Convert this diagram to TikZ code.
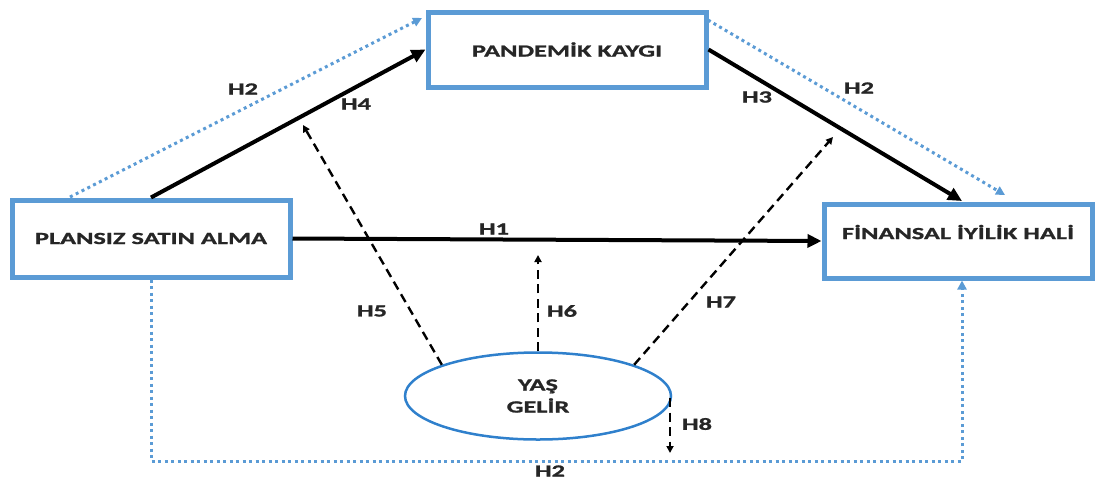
\documentclass[tikz,border=0pt]{standalone}
\usepackage{fontspec}
\setmainfont{Carlito}[FakeStretch=1.55, BoldFeatures={FakeBold=1.3}]
\usetikzlibrary{arrows.meta,shapes.geometric}
\definecolor{boxblue}{HTML}{5B9BD5}
\definecolor{ellblue}{HTML}{2F80CC}
\definecolor{txt}{HTML}{262626}
\begin{document}
\begin{tikzpicture}[x=1pt,y=-1pt,
  every node/.style={font=\fontsize{17}{22}\selectfont\bfseries, text=txt},
  box/.style={draw=boxblue, line width=5pt, rectangle, inner sep=0pt},
  solidarrow/.style={line width=4pt, -{Triangle[length=14pt,width=13pt]}},
  dasharrow/.style={line width=2.4pt, dash pattern=on 9pt off 5.5pt, -{Triangle[length=7pt,width=7pt]}},
  dotarrow/.style={draw=boxblue, line width=3pt, dash pattern=on 3pt off 3.5pt, -{Triangle[length=9pt,width=9pt]}},
  lab/.style={inner sep=0pt}
]
\useasboundingbox (0,0) rectangle (1097,485);
\node[box, minimum width=278pt, minimum height=75pt] (pk) at (567,49.5) {PANDEMİK KAYGI};
\node[box, minimum width=278pt, minimum height=77pt] (ps) at (151,238.5) {PLANSIZ SATIN ALMA};
\node[box, minimum width=268pt, minimum height=74pt, text depth=18pt] (fi) at (958,241) {FİNANSAL İYİLİK HALİ};
\node[ellipse, draw=ellblue, line width=2.5pt, minimum width=266pt, minimum height=87pt, inner sep=0pt, align=center] (yg) at (538,396) {YAŞ\\GELİR};

% free ends
\coordinate (h2ls) at (70,197);
\coordinate (h2le) at (422,18);
\coordinate (h2rs) at (708,20);
\coordinate (h2re) at (1005,195);
\coordinate (h3e) at (962,201);
\coordinate (h5e) at (303,125);
\coordinate (h6e) at (538,255);
\coordinate (h7e) at (833,137);
\coordinate (h8s) at (670,398);
\coordinate (h8e) at (670,453);
\coordinate (bot) at (550,461);

% dotted H2
\draw[dotarrow] (h2ls) -- (h2le);
\draw[dotarrow] (h2rs) -- (h2re);
\draw[dotarrow] (ps.south) |- (bot) -| ([xshift=4pt]fi.south);

% solid arrows
\draw[solidarrow] (ps.north) -- (pk.west);
\draw[solidarrow] (pk.east) -- (h3e);
\draw[solidarrow] (ps.east) -- (fi.west);

% dashed arrows
\draw[dasharrow] (yg.162) -- (h5e);
\draw[dasharrow] (yg.north) -- (h6e);
\draw[dasharrow] (yg.18) -- (h7e);
\draw[dasharrow] (h8s) -- (h8e);

% labels
\node[lab] (l2a) at (243,89) {H2};
\node[lab] (l4) at (356,104) {H4};
\node[lab] (l3) at (757,97) {H3};
\node[lab] (l2b) at (859,88) {H2};
\node[lab] (l1) at (494,229) {H1};
\node[lab] (l5) at (372,311) {H5};
\node[lab] (l6) at (562,311) {H6};
\node[lab] (l7) at (721,302) {H7};
\node[lab] (l8) at (697,424) {H8};
\node[lab] (l2c) at (550,471) {H2};
\end{tikzpicture}
\end{document}
